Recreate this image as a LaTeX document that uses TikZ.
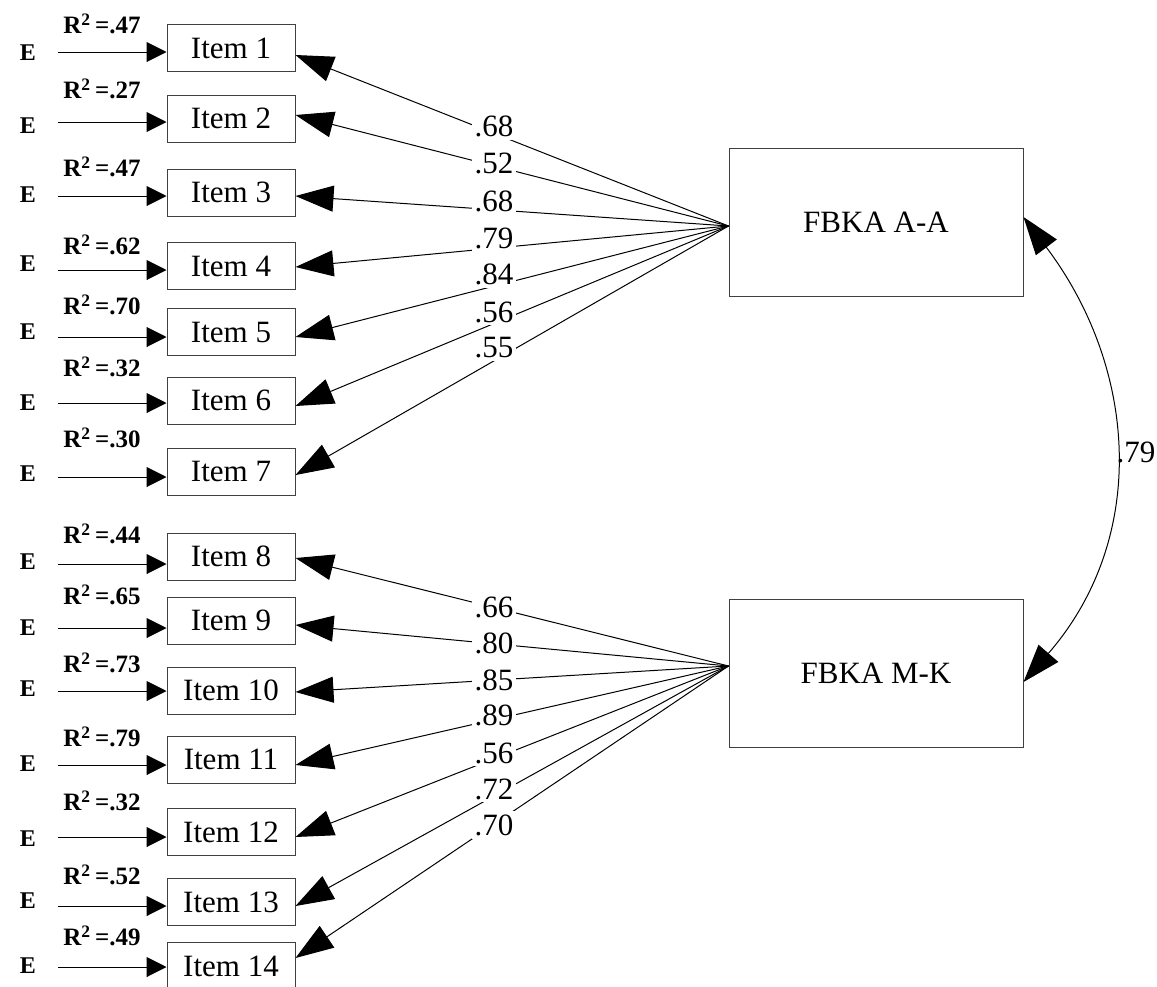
\documentclass[tikz,border=0pt]{standalone}
\usepackage{fontspec}
\setmainfont{Liberation Serif}
\usetikzlibrary{arrows.meta}
\begin{document}
\begin{tikzpicture}[x=0.5pt,y=-0.5pt,
  item/.style={draw=black!75,line width=0.5pt,minimum width=64pt,minimum height=23.5pt,inner sep=0pt,font=\fontsize{15.5}{18}\selectfont},
  factor/.style={draw=black!75,line width=0.5pt,minimum width=147pt,minimum height=74pt,inner sep=0pt,font=\fontsize{15.5}{18}\selectfont},
  enode/.style={inner sep=0pt,font=\bfseries\fontsize{12}{14}\selectfont},
  rnode/.style={inner sep=0pt,font=\bfseries\fontsize{12.5}{14}\selectfont},
  coef/.style={fill=white,inner sep=1.5pt,font=\fontsize{15.5}{18}\selectfont},
  earrow/.style={line width=0.5pt,-{Triangle[length=10pt,width=10pt]}},
  farrow/.style={line width=0.5pt,-{Triangle[length=19pt,width=13pt]}},
  carrow/.style={line width=0.5pt,{Triangle[length=19pt,width=13pt]}-{Triangle[length=19pt,width=13pt]}}]
\useasboundingbox (0,0) rectangle (1157,986);
% factors
\node[factor] (fa) at (876,222) {FBKA A-A};
\node[factor] (fm) at (876,673) {FBKA M-K};
\coordinate (ca) at ([yshift=-2pt]fa.west);
\coordinate (cm) at ([yshift=3.5pt]fm.west);
% items: n / box centre / E-arrow y / tip y / E y / R2 y / R2 value
\foreach \n/\cy/\ay/\ty/\ey/\ry/\r in {
  1/48/52/55/53/24/.47, 2/118.5/122/115/126/89/.27, 3/192.5/196/196/195/167/.47,
  4/266/270/267/264/245/.62, 5/332/337/337/332/305/.70, 6/400.5/403/406/403/367/.32,
  7/471.5/477/475/474/438/.30, 8/556.5/564/558/562/534/.44, 9/620.5/628/625/628/595/.65,
  10/690.5/691/692/689/663/.73, 11/759.5/765/765/764/737/.79, 12/832/837/837/839/801/.32,
  13/902/906/906/901/875/.52, 14/966/967/958/966/936/.49} {
  \node[item] (i\n) at (231,\cy) {Item \n};
  \node[enode] (e\n) at (28,\ey) {E};
  \node[rnode] (r\n) at (102,\ry) {R\textsuperscript{2}\,=\r};
  \coordinate (s\n) at (58,\ay);
  \coordinate (t\n) at (0,\ty);
  \draw[earrow] (s\n) -- (s\n -| i\n.west);
}
\foreach \n in {1,...,7} \draw[farrow] (ca) -- (i\n.east |- t\n);
\foreach \n in {8,...,14} \draw[farrow] (cm) -- (i\n.east |- t\n);
% loadings
\foreach \ly/\lab in {126/.68, 163/.52, 201/.68, 238/.79, 274/.84, 312/.56, 348/.55,
  607/.66, 643/.80, 680/.85, 715/.89, 753/.56, 789/.72, 825/.70}
  \node[coef] at (494,\ly) {\lab};
% correlation
\draw[carrow] ([yshift=2.5pt]fa.east) to[out=-53,in=49,looseness=1.05] ([yshift=-4.5pt]fm.east);
\node[inner sep=0pt,font=\fontsize{15.5}{18}\selectfont] (k) at (1136,452) {.79};
\end{tikzpicture}
\end{document}
